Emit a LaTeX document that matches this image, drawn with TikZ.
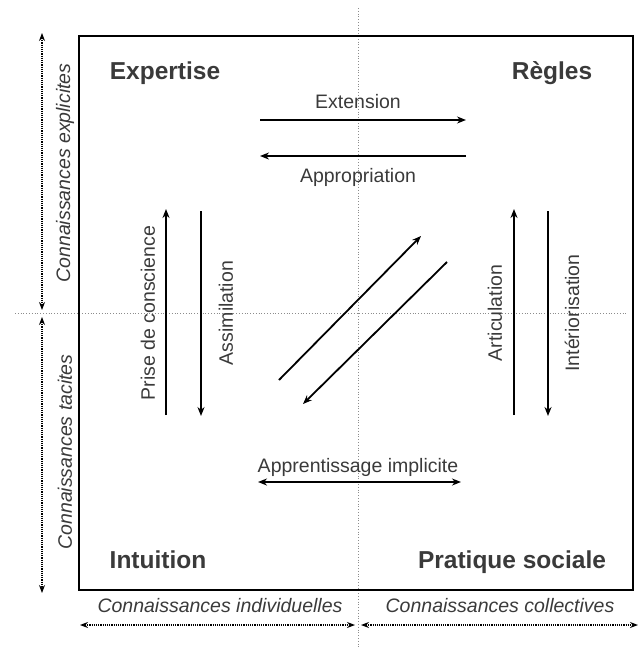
\documentclass[tikz,border=0pt]{standalone}
\usepackage{fontspec}
\setmainfont{Liberation Sans}
\usetikzlibrary{arrows.meta}
\definecolor{txt}{HTML}{3A3A3A}
\begin{document}
\begin{tikzpicture}[x=1pt,y=-1pt,
  big/.style={font=\fontsize{24.5}{28}\selectfont\bfseries, text=txt, inner sep=0pt, anchor=base},
  lab/.style={font=\fontsize{19.5}{22}\selectfont, text=txt, inner sep=0pt, anchor=base},
  rlab/.style={font=\fontsize{19.5}{22}\selectfont, text=txt, inner sep=0pt, rotate=90, anchor=center},
  ital/.style={font=\fontsize{19.5}{22}\selectfont\itshape, text=txt, inner sep=0pt},
  arr/.style={line width=1.8pt, -{Stealth[length=9pt,width=7pt]}},
  darr/.style={line width=1.8pt, {Stealth[length=9pt,width=7pt]}-{Stealth[length=9pt,width=7pt]}},
  axis/.style={dotted, black!45, line width=0.8pt},
  side/.style={densely dotted, line width=1.2pt, {Stealth[length=8pt,width=6pt]}-{Stealth[length=8pt,width=6pt]}}
]
\useasboundingbox (0,0) rectangle (644,648);

% axes
\coordinate (vt) at (358,8);
\coordinate (vb) at (358,648);
\coordinate (hl) at (15,313);
\coordinate (hr) at (628,313);
\draw[axis] (vt) -- (vb);
\draw[axis] (hl) -- (hr);

% frame
\node[draw, line width=1.6pt, minimum width=554pt, minimum height=554pt, inner sep=0pt] (frame) at (356,313) {};

% titles
\node[big] (expertise) at (165,79) {Expertise};
\node[big] (regles) at (552,79) {Règles};
\node[big] (intuition) at (158,568) {Intuition};
\node[big] (pratique) at (512,568) {Pratique sociale};

% side dotted arrows
\coordinate (l1) at (42,33);
\coordinate (l2) at (42,310);
\coordinate (l3) at (42,317);
\coordinate (l4) at (42,593);
\draw[side] (l1) -- (l2);
\draw[side] (l3) -- (l4);
\node[ital, rotate=90] (explicites) at (65,173) {Connaissances explicites};
\node[ital, rotate=90] (tacites) at (65,452) {Connaissances tacites};

\coordinate (b1) at (80,625);
\coordinate (b2) at (355,625);
\coordinate (b3) at (361,625);
\coordinate (b4) at (638,625);
\draw[side] (b1) -- (b2);
\draw[side] (b3) -- (b4);
\node[ital, anchor=base] (indiv) at (220,612) {Connaissances individuelles};
\node[ital, anchor=base] (collect) at (500,612) {Connaissances collectives};

% top horizontal arrows
\coordinate (e1) at (260,120);
\coordinate (e2) at (466,120);
\coordinate (a1) at (466,156);
\coordinate (a2) at (260,156);
\draw[arr] (e1) -- (e2);
\draw[arr] (a1) -- (a2);
\node[lab] (extension) at (358,108) {Extension};
\node[lab] (appropriation) at (358,182) {Appropriation};

% left vertical arrows
\coordinate (p1) at (166,415);
\coordinate (p2) at (166,209);
\coordinate (s1) at (201,211);
\coordinate (s2) at (201,416);
\draw[arr] (p1) -- (p2);
\draw[arr] (s1) -- (s2);
\node[rlab] (prise) at (148,313) {Prise de conscience};
\node[rlab] (assim) at (226,313) {Assimilation};

% right vertical arrows
\coordinate (r1) at (514,415);
\coordinate (r2) at (514,209);
\coordinate (i1) at (548,211);
\coordinate (i2) at (548,416);
\draw[arr] (r1) -- (r2);
\draw[arr] (i1) -- (i2);
\node[rlab] (artic) at (495,313) {Articulation};
\node[rlab] (interio) at (572,313) {Intériorisation};

% diagonal arrows
\coordinate (d1) at (279,380);
\coordinate (d2) at (421,236);
\coordinate (d3) at (447,262);
\coordinate (d4) at (303,404);
\draw[arr] (d1) -- (d2);
\draw[arr] (d3) -- (d4);

% bottom horizontal
\coordinate (ap1) at (258,482);
\coordinate (ap2) at (461,482);
\draw[darr] (ap1) -- (ap2);
\node[lab] (apprent) at (358,472) {Apprentissage implicite};
\end{tikzpicture}
\end{document}
